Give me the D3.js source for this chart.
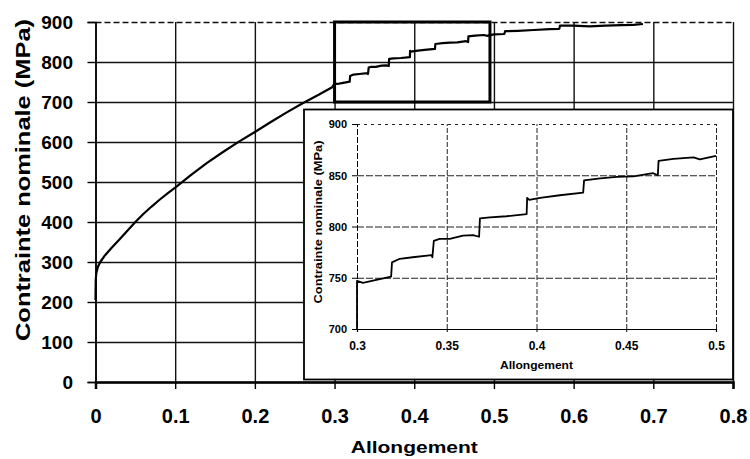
<!DOCTYPE html>
<html>
<head>
<meta charset="utf-8">
<script src="https://cdn.jsdelivr.net/npm/d3@7"></script>
<style>
  body { margin: 0; background: #fff; }
  svg { display: block; }
  text { font-family: "Liberation Sans", Arial, Helvetica, sans-serif; font-weight: bold; fill: #000; }
</style>
</head>
<body>
<svg id="chart" width="750" height="459"></svg>
<script>
// strain (Allongement) / nominal stress (MPa)
const strain = [
  0, 0.0003, 0.001, 0.003, 0.006, 0.012, 0.02, 0.03, 0.04, 0.05,
  0.06, 0.07, 0.08, 0.09, 0.1, 0.12, 0.14, 0.16, 0.18, 0.2,
  0.22, 0.24, 0.26, 0.28, 0.297,
  0.3, 0.3033, 0.3108, 0.319, 0.3195, 0.3238, 0.331, 0.3415, 0.342, 0.3428,
  0.346, 0.3517, 0.359, 0.3647, 0.368, 0.3685, 0.374, 0.3833, 0.3945, 0.3948,
  0.396, 0.402, 0.413, 0.426, 0.4265, 0.4355, 0.4447, 0.454, 0.465, 0.4676,
  0.468, 0.4763, 0.4875, 0.491, 0.5, 0.513, 0.514, 0.53, 0.55, 0.57,
  0.582, 0.583, 0.6, 0.62, 0.64, 0.66, 0.675, 0.687
];
const stress = [
  205, 255, 272, 288, 300, 317, 335, 356, 378, 400,
  420, 438, 455, 471, 486, 518, 548, 575, 601, 625,
  650, 674, 697, 718, 737,
  747, 745, 748, 751, 765, 768.5, 770, 772, 770, 786,
  788, 788, 791, 791.5, 790, 808, 809, 810, 812, 828,
  826, 828, 830.5, 833, 845, 847, 848.5, 849, 852, 850,
  864, 866, 867.5, 865.5, 869, 870, 877, 878, 880, 882,
  883, 891, 891, 889, 891, 892, 893, 895
];
// the inset trace starts with a vertical segment at 0.3
const insetLeadIn = [0.3, 700];

const xTicks = [0, 0.1, 0.2, 0.3, 0.4, 0.5, 0.6, 0.7, 0.8];
const yTicks = [0, 100, 200, 300, 400, 500, 600, 700, 800, 900];
const insetXTicks = [0.3, 0.35, 0.4, 0.45, 0.5];
const insetYTicks = [700, 750, 800, 850, 900];
const zoomX = [0.3, 0.495];
const zoomY = [700, 900];

const points = strain.map((s, i) => [s, stress[i]]);
const svg = d3.select('#chart');

// ---- main chart
const x = d3.scaleLinear().domain([0, 0.8]).range([95.5, 733]);
const y = d3.scaleLinear().domain([0, 900]).range([382, 22]);

svg.append('g')
  .attr('transform', `translate(0,${y(0)})`)
  .call(d3.axisBottom(x).tickValues(xTicks).tickSize(-(y(0) - y(900))).tickFormat(''))
  .call(g => g.select('.domain').remove())
  .selectAll('line').attr('stroke', '#111').attr('stroke-width', 1.4);

svg.append('g')
  .attr('transform', `translate(${x(0)},0)`)
  .call(d3.axisLeft(y).tickValues(yTicks).tickSize(-(x(0.8) - x(0))).tickFormat(''))
  .call(g => g.select('.domain').remove())
  .selectAll('line')
  .attr('stroke', '#111')
  .attr('stroke-width', 1.4)
  .attr('stroke-dasharray', d => d === 900 ? '6,3' : null);

const line = d3.line().x(d => x(d[0])).y(d => y(d[1]));
svg.append('path')
  .datum(points)
  .attr('d', line)
  .attr('fill', 'none')
  .attr('stroke', '#000')
  .attr('stroke-width', 2.2)
  .attr('stroke-linejoin', 'round');

// zoom box
svg.append('rect')
  .attr('x', x(zoomX[0]))
  .attr('y', y(zoomY[1]))
  .attr('width', x(zoomX[1]) - x(zoomX[0]))
  .attr('height', y(zoomY[0]) - y(zoomY[1]))
  .attr('fill', 'none')
  .attr('stroke', '#000')
  .attr('stroke-width', 3);

// axes with labels
const xAxis = svg.append('g')
  .attr('transform', `translate(0,${y(0)})`)
  .call(d3.axisBottom(x).tickValues(xTicks).tickSize(7).tickPadding(20).tickFormat(d => String(d)));
xAxis.select('.domain').attr('stroke', '#000').attr('stroke-width', 2.5);
xAxis.selectAll('line').attr('stroke-width', 1.4);
xAxis.selectAll('text').style('font-size', '20px');

const yAxis = svg.append('g')
  .attr('transform', `translate(${x(0)},0)`)
  .call(d3.axisLeft(y).tickValues(yTicks).tickSize(8).tickPadding(14.5).tickFormat(d => String(d)));
yAxis.select('.domain').attr('stroke', '#000').attr('stroke-width', 1.6);
yAxis.selectAll('line').attr('stroke-width', 1.4);
yAxis.selectAll('text').style('font-size', '19px').attr('dy', '0.36em');

svg.append('text')
  .attr('x', (x(0) + x(0.8)) / 2)
  .attr('y', 453)
  .attr('text-anchor', 'middle')
  .attr('textLength', 127)
  .attr('lengthAdjust', 'spacingAndGlyphs')
  .style('font-size', '17px')
  .text('Allongement');

svg.append('text')
  .attr('transform', 'translate(30,180) rotate(-90)')
  .attr('text-anchor', 'middle')
  .attr('textLength', 322)
  .attr('lengthAdjust', 'spacingAndGlyphs')
  .style('font-size', '21px')
  .text('Contrainte nominale (MPa)');

// ---- inset
const inset = svg.append('g');
inset.append('rect')
  .attr('x', 304).attr('y', 109.5)
  .attr('width', 429).attr('height', 270)
  .attr('fill', '#fff')
  .attr('stroke', '#000')
  .attr('stroke-width', 1.8);

const xi = d3.scaleLinear().domain([0.3, 0.5]).range([357, 716]);
const yi = d3.scaleLinear().domain([700, 900]).range([329, 124]);

inset.append('g')
  .attr('transform', `translate(0,${yi(700)})`)
  .call(d3.axisBottom(xi).tickValues(insetXTicks.slice(1)).tickSize(-(yi(700) - yi(900))).tickFormat(''))
  .call(g => g.select('.domain').remove())
  .selectAll('line').attr('stroke', '#222').attr('stroke-width', 1).attr('stroke-dasharray', '5,2');

inset.append('g')
  .attr('transform', `translate(${xi(0.3)},0)`)
  .call(d3.axisLeft(yi).tickValues(insetYTicks.slice(1)).tickSize(-(xi(0.5) - xi(0.3))).tickFormat(''))
  .call(g => g.select('.domain').remove())
  .selectAll('line').attr('stroke', '#222').attr('stroke-width', 1).attr('stroke-dasharray', d => d === 900 ? '3,4' : '7,2');

inset.append('clipPath').attr('id', 'insetClip')
  .append('rect')
  .attr('x', xi(0.3) - 1).attr('y', yi(900))
  .attr('width', xi(0.5) - xi(0.3) + 2).attr('height', yi(700) - yi(900));

const insetPoints = [insetLeadIn].concat(points.filter(d => d[0] >= 0.3 && d[0] <= 0.5));
const lineI = d3.line().x(d => xi(d[0])).y(d => yi(d[1]));
inset.append('path')
  .datum(insetPoints)
  .attr('d', lineI)
  .attr('clip-path', 'url(#insetClip)')
  .attr('fill', 'none')
  .attr('stroke', '#000')
  .attr('stroke-width', 1.8)
  .attr('stroke-linejoin', 'round');

const xiAxis = inset.append('g')
  .attr('transform', `translate(0,${yi(700)})`)
  .call(d3.axisBottom(xi).tickValues(insetXTicks).tickSize(3).tickPadding(9.5).tickFormat(d => String(d)));
xiAxis.select('.domain').attr('stroke', '#000').attr('stroke-width', 1.2);
xiAxis.selectAll('text').style('font-size', '12px');

const yiAxis = inset.append('g')
  .attr('transform', `translate(${xi(0.3)},0)`)
  .call(d3.axisLeft(yi).tickValues(insetYTicks).tickSize(5).tickPadding(5).tickFormat(d => String(d)));
yiAxis.select('.domain').attr('stroke', '#000').attr('stroke-width', 1).attr('stroke-dasharray', '6,2');
yiAxis.selectAll('text').style('font-size', '11px').attr('dy', '0.36em');

inset.append('text')
  .attr('x', (xi(0.3) + xi(0.5)) / 2)
  .attr('y', 369)
  .attr('text-anchor', 'middle')
  .attr('textLength', 73)
  .attr('lengthAdjust', 'spacingAndGlyphs')
  .style('font-size', '11px')
  .text('Allongement');

inset.append('text')
  .attr('transform', 'translate(322,222) rotate(-90)')
  .attr('text-anchor', 'middle')
  .attr('textLength', 163)
  .attr('lengthAdjust', 'spacingAndGlyphs')
  .style('font-size', '11px')
  .text('Contrainte nominale (MPa)');
</script>
</body>
</html>
